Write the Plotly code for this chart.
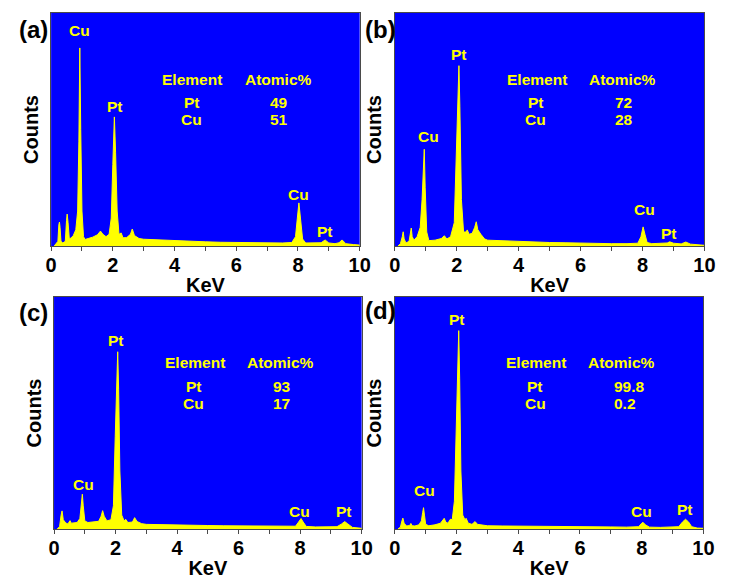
import plotly.graph_objects as go
from plotly.subplots import make_subplots

# ---------------- data ----------------
# energy (keV) / counts (arbitrary units, 0-100 = full panel height)
energy_a = [0.10, 0.18, 0.22, 0.25, 0.27, 0.29, 0.32, 0.38, 0.46, 0.50, 0.52, 0.55, 0.59, 0.65, 0.72, 0.80,
            0.86, 0.90, 0.93, 0.96, 1.00, 1.05, 1.10, 1.20, 1.35, 1.50, 1.60, 1.68, 1.78, 1.88, 1.95, 2.00,
            2.05, 2.09, 2.14, 2.20, 2.27, 2.33, 2.45, 2.57, 2.63, 2.70, 2.85, 3.0, 3.5, 4.0, 4.5, 5.0, 5.5,
            6.0, 6.5, 7.0, 7.5, 7.80, 7.92, 7.98, 8.03, 8.08, 8.15, 8.25, 8.5, 8.75, 8.88, 9.0, 9.2, 9.33,
            9.43, 9.55, 9.8, 10.0]
counts_a = [0, 1.5, 2, 9, 10.3, 8, 2, 1.3, 2, 11, 13.7, 10, 3, 3.5, 4.5, 7,
            15, 45, 85, 50, 15, 4, 2.8, 3.2, 3.8, 4.8, 6.4, 5, 4, 5, 12, 35,
            55.4, 40, 15, 5, 5.6, 3.5, 3.6, 5, 7.3, 4.5, 3.2, 2.9, 2.6, 2.1, 2.0, 1.8, 1.6,
            1.5, 1.4, 1.3, 1.3, 1.5, 4, 12, 18.5, 12, 3, 1.3, 1.2, 1.4, 2.6, 1.3, 1.0, 1.4,
            2.6, 1.0, 0.6, 0.4]

energy_b = [0.10, 0.18, 0.24, 0.27, 0.30, 0.36, 0.46, 0.50, 0.53, 0.56, 0.62, 0.72, 0.82, 0.88, 0.92, 0.95,
            0.98, 1.03, 1.10, 1.30, 1.50, 1.60, 1.68, 1.80, 1.92, 1.98, 2.04, 2.07, 2.10, 2.15, 2.22, 2.30,
            2.34, 2.40, 2.50, 2.58, 2.63, 2.68, 2.78, 2.90, 3.0, 3.5, 4.0, 4.5, 5.0, 5.5, 6.0, 6.5, 7.0, 7.5,
            7.85, 7.95, 8.02, 8.08, 8.15, 8.3, 8.6, 8.8, 8.88, 9.0, 9.25, 9.40, 9.55, 9.8, 10.0]
counts_b = [0, 1, 4, 6.1, 3, 1.3, 2, 6, 7.7, 4, 2.5, 4, 8, 20, 35, 41.5,
            25, 6, 2.3, 2.5, 3.2, 4.4, 3, 4, 10, 35, 70, 77.4, 60, 20, 6, 6,
            6.9, 5, 5.5, 8, 10.4, 7, 5, 3, 2.5, 2.2, 1.9, 1.7, 1.5, 1.4, 1.2, 1.1, 1.0, 1.0,
            1.2, 4, 8.2, 5, 1.5, 1.0, 1.0, 1.3, 1.8, 1.2, 0.9, 1.7, 0.8, 0.5, 0.3]

energy_c = [0.10, 0.18, 0.23, 0.26, 0.30, 0.38, 0.45, 0.50, 0.52, 0.56, 0.65, 0.75, 0.84, 0.89, 0.92, 0.95,
            1.00, 1.10, 1.30, 1.45, 1.53, 1.58, 1.63, 1.72, 1.85, 1.93, 1.99, 2.04, 2.07, 2.10, 2.14, 2.20,
            2.28, 2.33, 2.40, 2.55, 2.62, 2.70, 2.85, 3.0, 3.5, 4.0, 4.5, 5.0, 5.5, 6.0, 6.5, 7.0, 7.5,
            7.85, 7.95, 8.03, 8.10, 8.2, 8.5, 8.9, 9.2, 9.35, 9.45, 9.55, 9.7, 10.0]
counts_c = [0, 1, 6, 7.8, 4, 2.6, 2.2, 3.2, 3.6, 2.5, 2.6, 2.8, 4.5, 10, 15.0, 10,
            3.5, 2.8, 3.0, 3.3, 5.5, 7.9, 5.5, 3.5, 4, 10, 40, 70, 76.4, 60, 25, 6,
            3.5, 4.2, 2.8, 3, 4.9, 3.2, 2.3, 2.0, 1.8, 1.7, 1.6, 1.5, 1.4, 1.3, 1.2, 1.1, 1.0,
            1.2, 3, 4.5, 3, 1.1, 0.9, 1.1, 1.0, 2.2, 3.2, 2.2, 0.7, 0.3]

energy_d = [0.10, 0.18, 0.23, 0.26, 0.30, 0.38, 0.48, 0.52, 0.56, 0.65, 0.78, 0.86, 0.90, 0.93, 0.96, 1.00,
            1.10, 1.30, 1.48, 1.55, 1.60, 1.65, 1.72, 1.80, 1.86, 1.93, 1.99, 2.04, 2.07, 2.10, 2.14, 2.20,
            2.27, 2.31, 2.38, 2.50, 2.60, 2.68, 2.85, 3.0, 3.5, 4.0, 4.5, 5.0, 5.5, 6.0, 6.5, 7.0, 7.5,
            7.9, 7.98, 8.04, 8.12, 8.25, 8.6, 9.0, 9.2, 9.32, 9.42, 9.52, 9.62, 9.8, 10.0]
counts_d = [0, 0.8, 3.5, 4.7, 2.5, 1.3, 1.5, 2.4, 1.4, 1.3, 1.8, 3.5, 7, 9.2, 6, 2,
            1.4, 1.8, 2.5, 4, 4.6, 3, 2.5, 4.2, 4, 12, 45, 80, 85.5, 65, 25, 6,
            4, 4.6, 2.5, 2, 3.2, 2, 1.6, 1.4, 1.3, 1.2, 1.2, 1.1, 1.0, 1.0, 0.9, 0.9, 0.8,
            1.0, 2.2, 2.9, 1.8, 0.8, 0.7, 0.7, 1.0, 3, 4.2, 3, 1, 0.4, 0.3]

panel_labels = ["(a)", "(b)", "(c)", "(d)"]
pt_percent = ["49", "72", "93", "99.8"]
cu_percent = ["51", "28", "17", "0.2"]
x_tick_values = [0, 2, 4, 6, 8, 10]
x_tick_text = ["0", "2", "4", "6", "8", "10"]

# peak labels per panel: (text, keV, counts)
peak_labels = [
    [("Cu", 0.91, 92.7), ("Pt", 2.08, 59.7), ("Cu", 8.02, 22.3), ("Pt", 8.88, 6.1)],
    [("Pt", 2.08, 82.3), ("Cu", 1.10, 47.2), ("Cu", 8.07, 15.5), ("Pt", 8.86, 5.4)],
    [("Pt", 2.01, 81.2), ("Cu", 0.95, 19.3), ("Cu", 7.99, 7.5), ("Pt", 9.42, 7.5)],
    [("Pt", 2.00, 90.1), ("Cu", 0.97, 16.4), ("Cu", 7.99, 7.5), ("Pt", 9.39, 8.2)],
]

# ---------------- figure ----------------
OFF = 8                      # default page body margin
W, H = 732 - OFF, 581 - OFF  # figure size that fits the window
FONT = "Arial, Liberation Sans, sans-serif"
BLUE = "#0000FF"
YELLOW = "#FFFF00"
FRAME = "#4a4a4a"


def px_x(px):
    return (px - OFF) / W


def px_y(py):
    return 1 - (py - OFF) / H


fig = make_subplots(rows=2, cols=2)

spectra = [(energy_a, counts_a), (energy_b, counts_b), (energy_c, counts_c), (energy_d, counts_d)]
cells = [(1, 1), (1, 2), (2, 1), (2, 2)]
for (ex, cy), (r, c) in zip(spectra, cells):
    fig.add_trace(go.Scatter(x=ex, y=cy, mode="lines", fill="tozeroy",
                             line=dict(color=YELLOW, width=1), fillcolor=YELLOW,
                             showlegend=False, hoverinfo="skip"), row=r, col=c)

# panel plot areas in window pixels
px_domains = [((46, 362), (13, 246)), ((398, 715), (13, 246)),
              ((49, 364), (297, 529)), ((398, 714), (297, 529))]

for i, ((x0, x1), (yt, yb)) in enumerate(px_domains):
    sfx = "" if i == 0 else str(i + 1)
    fig.layout["xaxis" + sfx].update(
        domain=[px_x(x0), px_x(x1)], range=[0, 10], tickvals=x_tick_values, ticktext=x_tick_text,
        ticks="outside", ticklen=4, tickwidth=1, tickcolor=FRAME, ticklabelstandoff=-3,
        minor=dict(dtick=1, ticks="outside", ticklen=4, tickwidth=1, tickcolor=FRAME),
        showline=True, linecolor=FRAME, linewidth=1, mirror=True, showgrid=False, zeroline=False,
        tickfont=dict(family=FONT, size=20, color="black", weight="bold"),
        title=dict(text="KeV", font=dict(family=FONT, size=20, color="black", weight="bold"), standoff=2),
    )
    fig.layout["yaxis" + sfx].update(
        domain=[px_y(yb), px_y(yt)], range=[0, 100], showticklabels=False, ticks="",
        showline=True, linecolor=FRAME, linewidth=1, mirror=True, showgrid=False, zeroline=False,
        title=dict(text="Counts", font=dict(family=FONT, size=20, color="black", weight="bold"), standoff=6),
    )

annotations = []
label_pos = [(28, 30), (383, 30), (28, 312), (383, 311)]
ann_font = dict(family=FONT, size=15.5, color=YELLOW, weight="bold")
for i in range(4):
    sfx = "" if i == 0 else str(i + 1)
    xr, yr = "x" + sfx, "y" + sfx
    lx, ly = label_pos[i]
    annotations.append(dict(text=panel_labels[i], x=px_x(lx), y=px_y(ly), xref="paper", yref="paper",
                            xanchor="center", yanchor="middle", showarrow=False,
                            font=dict(family=FONT, size=24, color="black", weight="bold")))
    for txt, kx, ky in peak_labels[i]:
        annotations.append(dict(text=txt, x=kx, y=ky, xref=xr, yref=yr, showarrow=False,
                                xanchor="center", yanchor="middle", font=ann_font))
    ty = [71.6, 61.6, 54.2]
    annotations.append(dict(text="Element", x=4.58, y=ty[0], xref=xr, yref=yr, showarrow=False,
                            xanchor="center", yanchor="middle", font=ann_font))
    annotations.append(dict(text="Atomic%", x=7.36, y=ty[0], xref=xr, yref=yr, showarrow=False,
                            xanchor="center", yanchor="middle", font=ann_font))
    annotations.append(dict(text="Pt", x=4.55, y=ty[1], xref=xr, yref=yr, showarrow=False,
                            xanchor="center", yanchor="middle", font=ann_font))
    annotations.append(dict(text="Cu", x=4.55, y=ty[2], xref=xr, yref=yr, showarrow=False,
                            xanchor="center", yanchor="middle", font=ann_font))
    annotations.append(dict(text=pt_percent[i], x=7.04, y=ty[1], xref=xr, yref=yr, showarrow=False,
                            xanchor="left", yanchor="middle", font=ann_font))
    annotations.append(dict(text=cu_percent[i], x=7.04, y=ty[2], xref=xr, yref=yr, showarrow=False,
                            xanchor="left", yanchor="middle", font=ann_font))

fig.update_layout(
    width=W, height=H, margin=dict(l=0, r=0, t=0, b=0),
    paper_bgcolor="white", plot_bgcolor=BLUE, annotations=annotations,
    font=dict(family=FONT),
)

fig.write_html("out.html")
